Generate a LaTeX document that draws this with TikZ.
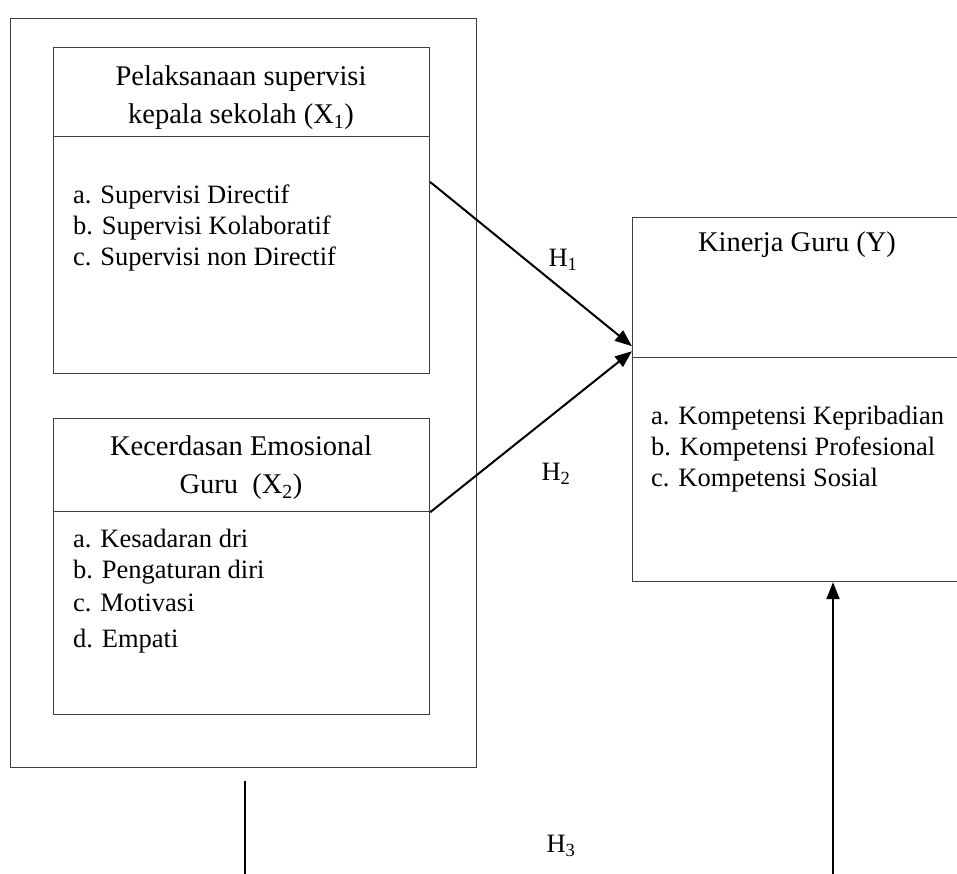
\documentclass[tikz,border=0pt]{standalone}
\usepackage{fontspec}
\setmainfont{Liberation Serif}
\usetikzlibrary{arrows.meta,calc}
\begin{document}
\begin{tikzpicture}[x=1pt,y=-1pt,
  frame/.style={draw=black!75,line width=1.2pt},
  boxA/.style={frame,inner sep=0pt,anchor=north west},
  title/.style={font=\fontsize{28.5}{38}\selectfont,align=center,inner sep=0pt},
  items/.style={font=\fontsize{26.5}{31}\selectfont,align=left,inner sep=0pt,anchor=west},
  hlab/.style={font=\fontsize{26.5}{31}\selectfont,inner sep=0pt},
  conn/.style={line width=2pt,black},
  arr/.style={conn,-{Triangle[length=17pt,width=13pt]}}]
\useasboundingbox (0,0) rectangle (957,873);
\clip (0,0) rectangle (957,873);
% outer frame
\node[boxA,minimum width=466pt,minimum height=749pt] (outer) at (10,18) {};
% X1
\node[boxA,minimum width=376pt,minimum height=89pt] (x1h) at (53,47) {};
\node[boxA,minimum width=376pt,minimum height=237pt] (x1b) at (53,136) {};
\node[title] (x1t) at (241,98) {Pelaksanaan supervisi\\kepala sekolah (X\textsubscript{1})};
\node[items] (x1l) at (73,228) {a. Supervisi Directif\\b. Supervisi Kolaboratif\\c. Supervisi non Directif};
% X2
\node[boxA,minimum width=376pt,minimum height=93pt] (x2h) at (53,418) {};
\node[boxA,minimum width=376pt,minimum height=203pt] (x2b) at (53,511) {};
\node[title] (x2t) at (241,468) {Kecerdasan Emosional\\Guru\ \ (X\textsubscript{2})};
\node[items] (x2l) at (73,591) {a. Kesadaran dri\\b. Pengaturan diri\\[2pt]c. Motivasi\\[5pt]d. Empati};
% Y
\node[boxA,minimum width=340pt,minimum height=140pt] (yh) at (632,217) {};
\node[boxA,minimum width=340pt,minimum height=224pt] (yb) at (632,357) {};
\node[title] (yt) at (797,245) {Kinerja Guru (Y)};
\node[items] (yl) at (651,449) {a. Kompetensi Kepribadian\\b. Kompetensi Profesional\\c. Kompetensi Sosial};
% labels
\node[hlab] (h1) at (563,260) {H\textsubscript{1}};
\node[hlab] (h2) at (556,474) {H\textsubscript{2}};
\node[hlab] (h3) at (561,846) {H\textsubscript{3}};
% connectors
\coordinate (s1) at ($(x1b.north east)+(0,46)$);
\coordinate (t1) at ($(yh.south west)+(0,-12)$);
\coordinate (t2) at ($(yh.south west)+(0,-7)$);
\draw[arr] (s1) -- (t1);
\draw[arr] (x2h.south east) -- (t2);
\coordinate (l3top) at (245,781);
\coordinate (l3bot) at (245,880);
\draw[conn] (l3top) -- (l3bot);
\coordinate (r3bot) at (833,880);
\draw[arr] (r3bot) -- (yb.south west -| r3bot);
\end{tikzpicture}
\end{document}
